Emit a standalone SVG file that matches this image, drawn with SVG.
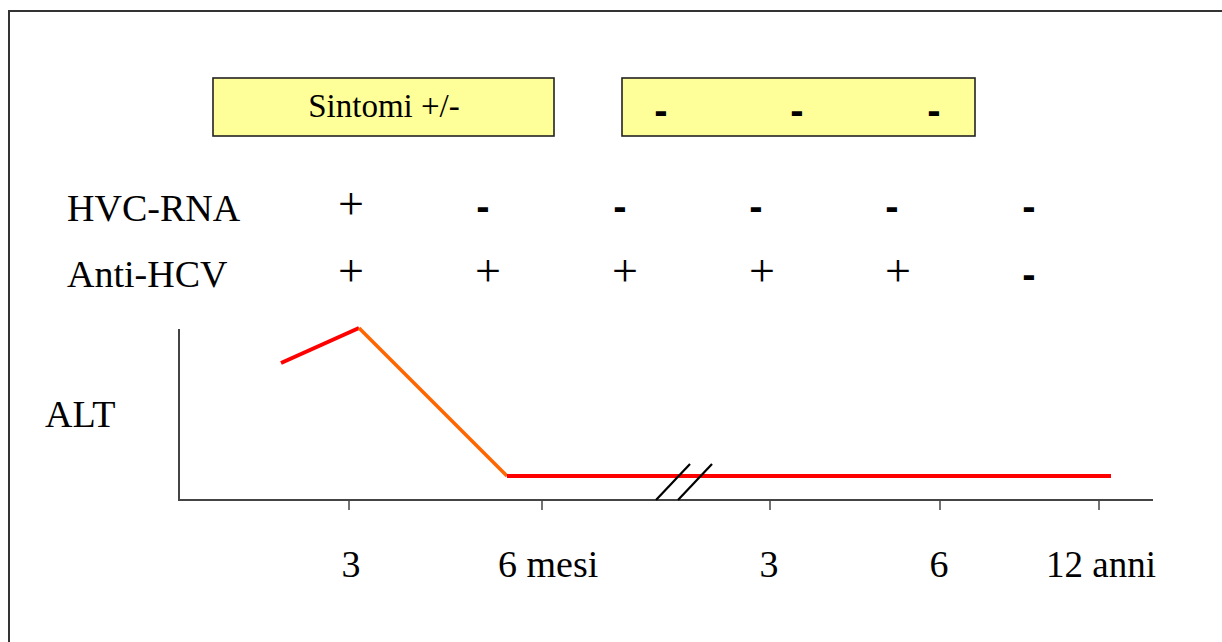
<svg xmlns="http://www.w3.org/2000/svg" width="1222" height="642" viewBox="0 0 1222 642">
<style>
.t{font-family:"Liberation Serif","Times New Roman",serif;font-size:38px;fill:#000}
.c{text-anchor:middle}
.p{font-family:"Liberation Serif","Times New Roman",serif;font-size:46px;fill:#000;text-anchor:middle}
.d{font-family:"Liberation Sans",Arial,sans-serif;font-weight:bold;font-size:40px;fill:#000;text-anchor:middle}
.box{fill:#FFFF99;stroke:#222;stroke-width:1.6}
.ax{stroke:#444;stroke-width:2;fill:none}
.tk{stroke:#444;stroke-width:1.5}
</style>
<rect x="0" y="0" width="1222" height="642" fill="#fff"/>
<rect x="9" y="11" width="1240" height="660" fill="none" stroke="#333" stroke-width="2"/>
<g id="box-sintomi">
<rect class="box" x="213" y="78" width="341" height="58"/>
<text class="t c" x="384" y="117" style="font-size:33px">Sintomi +/-</text>
</g>
<g id="box-neg">
<rect class="box" x="622" y="78" width="353" height="58"/>
<text class="d" x="661" y="124">-</text>
<text class="d" x="797" y="124">-</text>
<text class="d" x="934" y="124">-</text>
</g>
<g id="row-hvc">
<text class="t" x="67" y="221">HVC-RNA</text>
<text class="p" x="351" y="219">+</text>
<text class="d" x="483" y="220">-</text>
<text class="d" x="620" y="220">-</text>
<text class="d" x="756" y="220">-</text>
<text class="d" x="892" y="220">-</text>
<text class="d" x="1029" y="220">-</text>
</g>
<g id="row-anti">
<text class="t" x="67" y="287">Anti-HCV</text>
<text class="p" x="351" y="286">+</text>
<text class="p" x="488" y="286">+</text>
<text class="p" x="625" y="286">+</text>
<text class="p" x="762" y="286">+</text>
<text class="p" x="898" y="286">+</text>
<text class="d" x="1029" y="288">-</text>
</g>
<g id="axes">
<text class="t" x="45" y="427">ALT</text>
<polyline class="ax" points="179,329 179,500 1153,500"/>
<line class="tk" x1="349" y1="500" x2="349" y2="510"/>
<line class="tk" x1="542" y1="500" x2="542" y2="510"/>
<line class="tk" x1="770" y1="500" x2="770" y2="510"/>
<line class="tk" x1="940" y1="500" x2="940" y2="510"/>
<line class="tk" x1="1099" y1="500" x2="1099" y2="510"/>
<text class="t c" x="351" y="577">3</text>
<text class="t" x="498" y="577">6 mesi</text>
<text class="t c" x="769" y="577">3</text>
<text class="t c" x="939" y="577">6</text>
<text class="t" x="1046" y="577" style="font-size:37px">12 anni</text>
</g>
<g id="connectors">
<line x1="281" y1="363" x2="359" y2="328" stroke="#FF0000" stroke-width="4"/>
<polyline points="359,328 507,476" fill="none" stroke="#FF6600" stroke-width="3.5"/>
<line x1="507" y1="476" x2="1111" y2="476" stroke="#FF0000" stroke-width="4"/>
<line x1="656" y1="500" x2="690" y2="464" stroke="#000" stroke-width="2.2"/>
<line x1="678" y1="500" x2="712" y2="464" stroke="#000" stroke-width="2.2"/>
</g>
</svg>
